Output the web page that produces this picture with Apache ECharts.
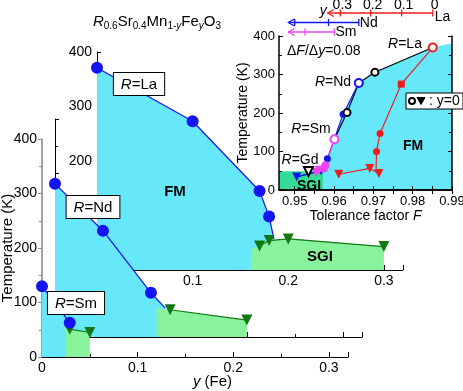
<!DOCTYPE html>
<html>
<head>
<meta charset="utf-8">
<script src="https://cdn.jsdelivr.net/npm/echarts@6/dist/echarts.min.js"></script>
<style>
html, body { margin: 0; padding: 0; background: #fff; }
#phase { width: 463px; height: 391px; }
</style>
</head>
<body>
<div id="phase"></div>
<script>
// ---- main panels: y (Fe) vs T (K) ----
var laTc = [[0, 371], [0.1, 273], [0.17, 145], [0.18, 98]];
var laTg = [[0.17, 44], [0.18, 54], [0.2, 57], [0.3, 43]];
var ndTc = [[0, 281], [0.05, 195], [0.1, 81]];
var ndTg = [[0.12, 50], [0.2, 31]];
var smTc = [[0, 130], [0.029, 63]];
var smTg = [[0.029, 51], [0.05, 45]];
// phase boundaries (FM region under Tc, SGI region under Tg)
var laFm = [[0, 371], [0.1, 273], [0.17, 145], [0.18, 98], [0.185, 57]];
var laSgi = [[0.161, 38], [0.17, 44], [0.18, 55], [0.2, 58], [0.3, 43]];
var ndFm = [[0, 281], [0.05, 195], [0.1, 81], [0.115, 53]];
var ndSgi = [[0.106, 53], [0.12, 50], [0.2, 31]];
var smFm = [[0, 130], [0.029, 63]];
var smSgi = [[0.025, 56], [0.029, 52], [0.05, 46]];
var ndFmLeft = -0.0135; // Nd cyan runs back to the front (Sm) axis

// ---- inset: tolerance factor F vs T (K) ----
var insFm = [[0.9573, 0], [0.9573, 50], [0.9583, 81], [0.9601, 132], [0.9623, 197], [0.9663, 278], [0.9704, 306], [0.9851, 370], [0.99, 381]];
var insSgi = [[0.946, 49], [0.9573, 49]];
var insY0 = [[0.9601, 132], [0.9633, 201], [0.9663, 278], [0.9704, 306], [0.9851, 370]];
var insY0Open = [[0.9633, 201], [0.9704, 306]];
var insGd = [[0.9535, 48]];
var insLa = [[0.9851, 370], [0.9771, 275], [0.9717, 147], [0.9708, 100], [0.9707, 55]];
var insLaOpen = [[0.9851, 370]];
var insLaSq = [[0.9771, 275]];
var insLaDot = [[0.9717, 147], [0.9708, 100]];
var insLaTg = [[0.9612, 41], [0.9691, 56], [0.9714, 43]];
var insNd = [[0.9663, 278], [0.9623, 197], [0.9583, 81], [0.9567, 50], [0.9505, 34]];
var insNdOpen = [[0.9663, 278]];
var insNdDot = [[0.9623, 197], [0.9583, 81]];
var insNdTg = [[0.9567, 50], [0.9505, 34]];
var insSm = [[0.9601, 132], [0.9578, 64], [0.9574, 56], [0.9562, 51], [0.9554, 46]];
var insSmOpen = [[0.9601, 132]];
var insSmDot = [[0.9578, 64], [0.9574, 56]];
var insSmTg = [[0.9562, 51], [0.9554, 46]];
var insTicks = [0.95, 0.96, 0.97, 0.98, 0.99];
var insMinor = [0.95, 0.955, 0.96, 0.965, 0.97, 0.975, 0.98, 0.985, 0.99];

// ---- y scales on top of the inset (dF/dy = 0.08) ----
var laArrowF = [0.9851, 0.9772, 0.9693, 0.9616];
var laArrowLab = ['0', '0.1', '0.2', '0.3'];
var ndArrowF = [0.9663, 0.9586, 0.9500];
var smArrowF = [0.9601, 0.9526];
var laTipF = 0.9584, ndTipF = 0.9484, smTipF = 0.9484;

var ff = 'Liberation Sans';
var cyan = '#66e8fa';
var sgGreen = '#88f29c';
var insGreen = '#33dd99';
var dkGreen = '#137813';
var blue = '#1414f0';
var red = '#f01c1c';
var magenta = '#ee44ee';

function area(gi, data, color, z, clip) {
    return { type: 'line', xAxisIndex: gi, yAxisIndex: gi, data: data, symbol: 'none', silent: true,
        lineStyle: { width: 0, opacity: 0 }, areaStyle: { color: color, opacity: 1 }, z: z, clip: clip !== false };
}
function line(gi, data, color, z) {
    return { type: 'line', xAxisIndex: gi, yAxisIndex: gi, data: data, symbol: 'none', silent: true,
        lineStyle: { color: color, width: 1.2 }, z: z, clip: false };
}
function dots(gi, data, color, size, z, symbol, open) {
    return { type: 'scatter', xAxisIndex: gi, yAxisIndex: gi, data: data, symbol: symbol || 'circle', symbolSize: size,
        symbolRotate: symbol === 'triangle' ? 180 : 0, silent: true, z: z, clip: false,
        itemStyle: open ? { color: '#fff', borderColor: color, borderWidth: 2, opacity: 1 } : { color: color, opacity: 1 } };
}
function tri(gi, data, color, size, z) {
    var s = line(gi, data, color, z);
    s.symbol = 'triangle';
    s.symbolSize = size;
    s.symbolRotate = 180;
    s.showSymbol = true;
    s.itemStyle = { color: color, opacity: 1 };
    return s;
}

function panelX(gi, labels) {
    return {
        type: 'value', gridIndex: gi, min: 0, max: 0.32, interval: 0.1,
        axisLine: { show: true, lineStyle: { color: '#000', width: 1 } },
        axisTick: { show: true, inside: true, length: 5, lineStyle: { color: '#000' } },
        minorTick: { show: true, splitNumber: 2, length: 3, lineStyle: { color: '#000' } },
        splitLine: { show: false },
        axisLabel: labels ? { show: true, color: '#000', fontSize: 14, fontFamily: ff, margin: 4, formatter: labels } : { show: false }
    };
}
function panelY(gi, labels, color) {
    return {
        type: 'value', gridIndex: gi, min: 0, max: 400, interval: 100,
        axisLine: { show: true, lineStyle: { color: color || '#000', width: color ? 1.6 : 1 } },
        axisTick: { show: true, inside: !color, length: 4, lineStyle: { color: color || '#000' } },
        minorTick: { show: true, splitNumber: 2, length: 3, lineStyle: { color: color || '#000' } },
        splitLine: { show: false },
        axisLabel: labels ? { show: true, color: '#000', fontSize: 14, fontFamily: ff, margin: 5, formatter: labels } : { show: false }
    };
}

var myChart = echarts.init(document.getElementById('phase'));

var smX = panelX(2, function (v) { return v === 0 ? '0' : v.toFixed(1); });
smX.name = '{i|y} (Fe)';
smX.nameLocation = 'middle';
smX.nameGap = 17;
smX.nameMoveOverlap = false;
smX.nameTextStyle = { fontSize: 15, fontFamily: ff, color: '#000', padding: [0, 0, 0, 35],
    rich: { i: { fontStyle: 'italic', fontSize: 15, fontFamily: ff } } };
var smY = panelY(2, function (v) { return v; }, '#8c8c8c');
smY.name = 'Temperature (K)';
smY.nameLocation = 'middle';
smY.nameGap = 27;
smY.nameMoveOverlap = false;
smY.nameTextStyle = { fontSize: 15, fontFamily: ff, color: '#000' };

var insX = {
    type: 'value', gridIndex: 3, min: 0.946, max: 0.99, z: 10,
    axisLine: { show: true, lineStyle: { color: '#000', width: 1.5 } },
    axisTick: { show: true, inside: true, length: 4, customValues: insMinor, lineStyle: { color: '#000' } },
    splitLine: { show: false },
    axisLabel: { show: true, customValues: insTicks, color: '#000', fontSize: 13, fontFamily: ff, margin: 5,
        formatter: function (v) { return v.toFixed(2); } },
    name: 'Tolerance factor {i|F}', nameLocation: 'middle', nameGap: 19, nameMoveOverlap: false,
    nameTextStyle: { fontSize: 14, fontFamily: ff, color: '#000', rich: { i: { fontStyle: 'italic', fontSize: 14, fontFamily: ff } } }
};
var insXTop = {
    type: 'value', gridIndex: 3, min: 0.946, max: 0.99, position: 'top', z: 10,
    axisLine: { show: true, lineStyle: { color: '#000', width: 1.5 } },
    axisTick: { show: true, inside: true, length: 4, customValues: insMinor, lineStyle: { color: '#000' } },
    splitLine: { show: false }, axisLabel: { show: false }
};
var insY = {
    type: 'value', gridIndex: 3, min: 0, max: 400, interval: 100, z: 10,
    axisLine: { show: true, lineStyle: { color: '#000', width: 1.5 } },
    axisTick: { show: true, inside: true, length: 4, lineStyle: { color: '#000' } },
    minorTick: { show: true, splitNumber: 2, length: 3, lineStyle: { color: '#000' } },
    splitLine: { show: false },
    axisLabel: { show: true, color: '#000', fontSize: 13, fontFamily: ff, margin: 4 },
    name: 'Temperature (K)', nameLocation: 'middle', nameGap: 29, nameMoveOverlap: false,
    nameTextStyle: { fontSize: 14, fontFamily: ff, color: '#000' }
};
var insYRight = {
    type: 'value', gridIndex: 3, min: 0, max: 400, interval: 100, position: 'right', z: 10,
    axisLine: { show: true, lineStyle: { color: '#000', width: 1.5 } },
    axisTick: { show: true, inside: true, length: 4, lineStyle: { color: '#000' } },
    minorTick: { show: true, splitNumber: 2, length: 3, lineStyle: { color: '#000' } },
    splitLine: { show: false }, axisLabel: { show: false }
};

var option = {
    animation: false,
    backgroundColor: '#fff',
    textStyle: { fontFamily: ff },
    grid: [
        { left: 97, top: 52, width: 306, height: 218, outerBoundsMode: 'none' },   // R = La
        { left: 55, top: 119, width: 307, height: 218, outerBoundsMode: 'none' },  // R = Nd
        { left: 42, top: 139, width: 306, height: 218, outerBoundsMode: 'none' },  // R = Sm
        { left: 279, top: 36, width: 173, height: 154, outerBoundsMode: 'none' }   // inset
    ],
    xAxis: [
        panelX(0, function (v) { return v === 0 ? '' : v.toFixed(1); }),
        panelX(1, null),
        smX,
        insX,
        insXTop
    ],
    yAxis: [
        panelY(0, function (v) { return v < 200 ? '' : v; }),
        panelY(1, null),
        smY,
        insY,
        insYRight
    ],
    series: [
        // La panel
        area(0, laFm, cyan, 2),
        area(0, laSgi, sgGreen, 2),
        line(0, laFm, blue, 2),
        tri(0, laTg, dkGreen, 11, 2),
        dots(0, laTc, blue, 12, 2),
        // Nd panel
        area(1, [[ndFmLeft, ndFm[0][1]]].concat(ndFm), cyan, 3, false),
        area(1, ndSgi, sgGreen, 3),
        line(1, ndFm, blue, 3),
        tri(1, ndTg, dkGreen, 11, 3),
        dots(1, ndTc, blue, 12, 3),
        // Sm panel
        area(2, smFm, cyan, 4),
        area(2, smSgi, sgGreen, 4),
        line(2, smFm, blue, 4),
        tri(2, smTg, dkGreen, 11, 4),
        dots(2, smTc, blue, 12, 4),
        // inset
        area(3, insFm, cyan, 5),
        area(3, insSgi, insGreen, 5),
        line(3, insY0, '#000', 5),
        line(3, insLa, red, 5),
        line(3, insNd, blue, 5),
        line(3, insSm, magenta, 5),
        tri(3, insLaTg, red, 9, 6),
        tri(3, insNdTg, blue, 9, 6),
        tri(3, insSmTg, magenta, 9, 6),
        dots(3, insLaSq, red, 7, 6, 'rect'),
        dots(3, insLaDot, red, 7, 6),
        dots(3, insNdDot, blue, 7, 6),
        dots(3, insSmDot, magenta, 8, 6),
        dots(3, insY0Open, '#000', 7, 7, 'circle', true),
        dots(3, insGd, '#000', 9, 7, 'triangle', true),
        dots(3, insLaOpen, red, 8, 7, 'circle', true),
        dots(3, insNdOpen, blue, 8, 7, 'circle', true),
        dots(3, insSmOpen, magenta, 8, 7, 'circle', true)
    ]
};
myChart.setOption(option);

// ---- text, boxes and y-scale arrows ----
var rich15 = { i: { fontStyle: 'italic', fontSize: 15, fontFamily: ff }, n: { fontSize: 15, fontFamily: ff } };
var rich14 = { i: { fontStyle: 'italic', fontSize: 14, fontFamily: ff }, n: { fontSize: 14, fontFamily: ff } };
function txt(x, y, text, size, opts) {
    opts = opts || {};
    var st = { text: text, fontSize: size, fontFamily: ff, fill: opts.fill || '#000',
        fontWeight: opts.bold ? 'bold' : 'normal', fontStyle: opts.italic ? 'italic' : 'normal',
        align: opts.align || 'center', verticalAlign: 'middle', rich: opts.rich };
    if (opts.box) {
        st.backgroundColor = '#fff';
        st.borderColor = '#000';
        st.borderWidth = 1;
        st.padding = [4, 7, 3, 7];
    }
    return { type: 'text', x: x, y: y, z: 100, silent: true, style: st };
}
function px(f) { return myChart.convertToPixel({ xAxisIndex: 3 }, f); }
function arrowRow(ticksF, tipF, y, color) {
    var xs = ticksF.map(px);
    var tip = px(tipF);
    var els = [
        { type: 'line', z: 100, shape: { x1: tip, y1: y, x2: xs[0], y2: y }, style: { stroke: color, lineWidth: 1.3 } },
        { type: 'polyline', z: 100, shape: { points: [[tip + 6, y - 3.5], [tip, y], [tip + 6, y + 3.5]] }, style: { stroke: color, lineWidth: 1.3, fill: null } }
    ];
    xs.forEach(function (x) {
        els.push({ type: 'line', z: 100, shape: { x1: x, y1: y - 3.5, x2: x, y2: y + 3.5 }, style: { stroke: color, lineWidth: 1.3 } });
    });
    return els;
}

var els = [
    txt(157, 22, '{i|R}{s|0.6}{n|Sr}{s|0.4}{n|Mn}{s|1-}{si|y}{n|Fe}{si|y}{n|O}{s|3}', 15, { rich: {
        n: { fontSize: 15, fontFamily: ff, lineHeight: 18 },
        i: { fontSize: 15, fontFamily: ff, fontStyle: 'italic', lineHeight: 18 },
        s: { fontSize: 10, fontFamily: ff, lineHeight: 7, verticalAlign: 'bottom' },
        si: { fontSize: 10, fontFamily: ff, fontStyle: 'italic', lineHeight: 7, verticalAlign: 'bottom' }
    } }),
    txt(139, 84, '{i|R}{n|=La}', 15, { rich: rich15, box: true }),
    txt(93, 207, '{i|R}{n|=Nd}', 15, { rich: rich15, box: true }),
    txt(76, 303, '{i|R}{n|=Sm}', 15, { rich: rich15, box: true }),
    txt(175, 192, 'FM', 15, { bold: true }),
    txt(320, 257, 'SGI', 15, { bold: true }),
    // inset texts
    txt(287, 51, '{n|Δ}{i|F}{n|/Δ}{i|y}{n|=0.08}', 14, { rich: rich14, align: 'left' }),
    txt(405, 44, '{i|R}{n|=La}', 14, { rich: rich14 }),
    txt(333, 82, '{i|R}{n|=Nd}', 14, { rich: rich14 }),
    txt(311, 129, '{i|R}{n|=Sm}', 14, { rich: rich14 }),
    txt(300, 160, '{i|R}{n|=Gd}', 14, { rich: rich14 }),
    txt(413, 146, 'FM', 14, { bold: true }),
    txt(309, 186, 'SGI', 14, { bold: true }),
    // legend box
    { type: 'rect', z: 100, shape: { x: 406, y: 93, width: 57, height: 16 }, style: { fill: '#fff', stroke: '#000', lineWidth: 1 } },
    { type: 'circle', z: 101, shape: { cx: 412, cy: 101, r: 3 }, style: { fill: '#fff', stroke: '#000', lineWidth: 2 } },
    { type: 'polygon', z: 101, shape: { points: [[417, 97.5], [425, 97.5], [421, 104.5]] }, style: { fill: '#000', stroke: '#000', lineWidth: 1 } },
    txt(429, 101, ': y=0', 14, { align: 'left' })
];

els = els.concat(arrowRow(laArrowF, laTipF, 13, red), arrowRow(ndArrowF, ndTipF, 22.5, blue), arrowRow(smArrowF, smTipF, 32, magenta));
laArrowF.forEach(function (f, i) { els.push(txt(px(f) + 2, 5, laArrowLab[i], 14, { fill: '#000' })); });
els.push(txt(px(laTipF) - 1, 11, 'y', 14, { italic: true, align: 'right' }));
els.push(txt(px(laArrowF[0]) + 2, 17, 'La', 14, { align: 'left' }));
els.push(txt(px(ndArrowF[0]) + 1, 23, 'Nd', 14, { align: 'left' }));
els.push(txt(px(smArrowF[0]) + 1, 32, 'Sm', 14, { align: 'left' }));

myChart.setOption({ graphic: els });
window.addEventListener('resize', function () { myChart.resize(); });
</script>
</body>
</html>
